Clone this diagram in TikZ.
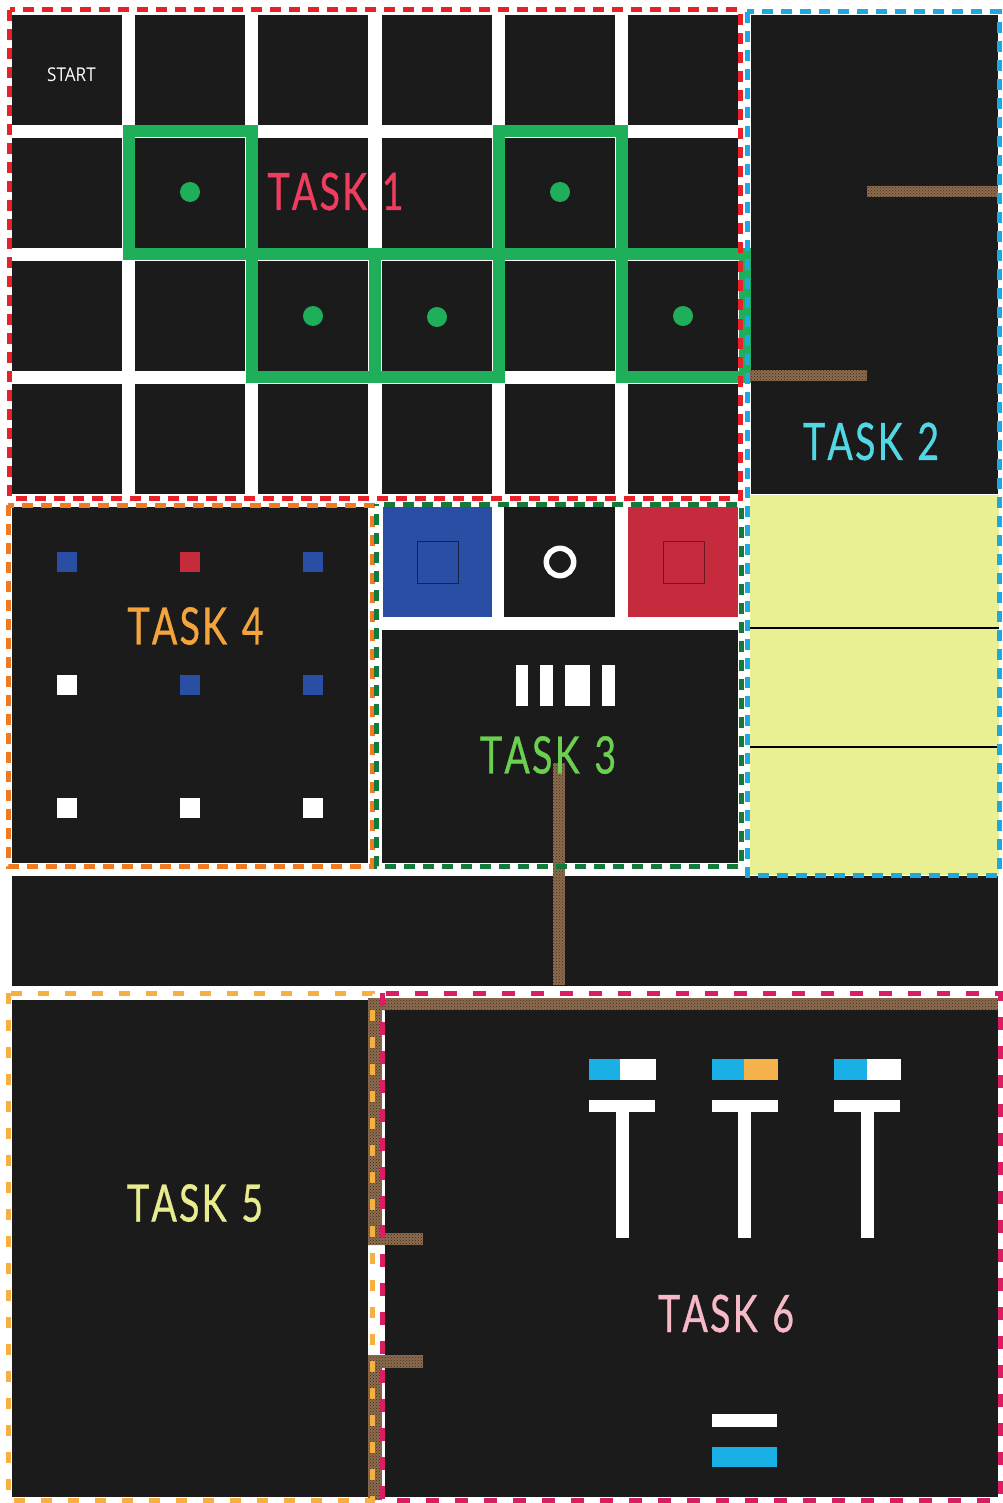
\documentclass[tikz,border=0pt]{standalone}
\usepackage{fontspec}
\setmainfont{Open Sans}
\newfontfamily\taskfont[FakeBold=0.8]{Lato}
\usetikzlibrary{patterns}
\definecolor{cellblack}{HTML}{1C1B1C}
\definecolor{gridgreen}{HTML}{1FAE5A}
\definecolor{bred}{HTML}{E8202A}
\definecolor{bblue}{HTML}{1FA8E0}
\definecolor{borange}{HTML}{F07A22}
\definecolor{bgreen}{HTML}{147A3C}
\definecolor{blorange}{HTML}{F6B040}
\definecolor{bmagenta}{HTML}{D91E64}
\definecolor{tone}{HTML}{EF3D5E}
\definecolor{ttwo}{HTML}{52D8E4}
\definecolor{tthree}{HTML}{6BCF4F}
\definecolor{tfour}{HTML}{F5A43C}
\definecolor{tfive}{HTML}{E8EC8E}
\definecolor{tsix}{HTML}{F8B9C6}
\definecolor{sqblue}{HTML}{2A4EA3}
\definecolor{sqred}{HTML}{C52B3D}
\definecolor{padyellow}{HTML}{E9EF93}
\definecolor{barcyan}{HTML}{1AB0E6}
\definecolor{barorange}{HTML}{F6B24A}
\definecolor{corkbase}{HTML}{8C6C4E}
\definecolor{corkdark}{HTML}{3E2C1E}
\newcommand{\tasktext}[1]{T\kern3pt A\kern3pt S\kern3pt K\hspace{20pt}#1}
\begin{document}
\begin{tikzpicture}[x=1pt,y=-1pt]
\tikzset{
  cell/.style={fill=cellblack},
  bdr/.style={line width=5pt, dash pattern=on 11pt off 8pt},
  greenline/.style={draw=gridgreen, line width=12pt, line cap=rect},
  cork/.style={fill=corkbase, postaction={pattern=crosshatch dots, pattern color=corkdark}},
  tasklabel/.style={inner sep=0pt, font=\taskfont\fontsize{51.6}{52}\selectfont, xscale=0.73},
  wbar/.style={fill=white},
}
\fill[white] (0,0) rectangle (1002,1503);
\useasboundingbox (0,0) rectangle (1002,1503);

% ---------- Task 1 grid ----------
\foreach \i in {0,...,5} \foreach \j in {0,...,3} {
  \fill[cell] ({12+123.2*\i},{15+123*\j}) rectangle ++(110,110);
}
\draw[greenline] (128.5,131) -- (252,131);
\draw[greenline] (498.5,131) -- (621.5,131);
\draw[greenline] (128.5,254.5) -- (745,254.5);
\draw[greenline] (252,377) -- (498.5,377);
\draw[greenline] (621.5,377) -- (745,377);
\draw[greenline] (128.5,131) -- (128.5,254.5);
\draw[greenline] (252,131) -- (252,377);
\draw[greenline] (375,254.5) -- (375,377);
\draw[greenline] (498.5,131) -- (498.5,377);
\draw[greenline] (621.5,131) -- (621.5,377);
\draw[greenline] (745,254.5) -- (745,377);
\foreach \p in {(190,192),(560,192),(313,316),(437,317),(683,316)}
  \fill[gridgreen] \p circle (10);
\node[text=white, inner sep=0pt, font=\fontsize{19}{20}\selectfont, xscale=0.9] (start) at (71.5,75) {START};
\node[tasklabel, text=tone] (task1) at (335.5,191.5) {\tasktext{1}};

% ---------- Task 2 ----------
\fill[cell] (751,15) rectangle (998,494);
\fill[padyellow] (750,495) rectangle (999,875);
\draw[line width=1.5pt] (750,628) -- (999,628);
\draw[line width=1.5pt] (750,747) -- (999,747);
\fill[cork] (867,186) rectangle (998,197);
\fill[cork] (750,370) rectangle (867,381);
\node[tasklabel, text=ttwo] (task2) at (871,441.5) {\tasktext{2}};

% ---------- Task 4 ----------
\fill[cell] (12,507) rectangle (368,863);
\foreach \x/\y/\c in {67/562/sqblue,190/562/sqred,313/562/sqblue,
                      67/685/white,190/685/sqblue,313/685/sqblue,
                      67/808/white,190/808/white,313/808/white}
  \fill[\c] (\x-10,\y-10) rectangle (\x+10,\y+10);
\node[tasklabel, text=tfour] (task4) at (195.5,626) {\tasktext{4}};

% ---------- Task 3 ----------
\fill[sqblue] (382.5,507) rectangle (491.5,617);
\fill[cell] (504,507) rectangle (615,617);
\fill[sqred] (628,507) rectangle (738,617);
\draw[draw=black!55!sqblue, line width=0.8pt] (417,541) rectangle (458,583);
\draw[draw=black!45!sqred, line width=0.8pt] (663,541) rectangle (704,583);
\draw[white, line width=5.5pt] (560,562) circle (13.7);
\fill[cell] (382,630) rectangle (738,863);
\fill[wbar] (515.5,665) rectangle (527.5,706);
\fill[wbar] (540,665) rectangle (552.5,706);
\fill[wbar] (565,665) rectangle (589.5,706);
\fill[wbar] (601.5,665) rectangle (614.5,706);

% ---------- middle band ----------
\fill[cell] (12,876) rectangle (998,986);
\fill[cork] (553,763) rectangle (565,985);
\node[tasklabel, text=tthree] (task3) at (548,755) {\tasktext{3}};

% ---------- Task 5 / Task 6 ----------
\fill[cell] (12,1000) rectangle (368,1497);
\fill[cell] (385,1000) rectangle (998,1497);
\fill[cork] (374,998) rectangle (998,1010);
\fill[cork] (368,998) rectangle (382,1243);
\fill[cork] (368,1355) rectangle (382,1500);
\fill[cork] (368,1233) rectangle (423,1245);
\fill[cork] (368,1355) rectangle (423,1368);
\node[tasklabel, text=tfive] (task5) at (195,1203) {\tasktext{5}};

% Task 6 markers
\fill[barcyan] (589,1059) rectangle (620,1080);
\fill[white] (620,1059) rectangle (656,1080);
\fill[barcyan] (712,1059) rectangle (744,1080);
\fill[barorange] (744,1059) rectangle (778,1080);
\fill[barcyan] (834,1059) rectangle (867,1080);
\fill[white] (867,1059) rectangle (901,1080);
\foreach \l/\s in {589/616,712/738,834/861} {
  \fill[white] (\l,1100) rectangle (\l+66,1112);
  \fill[white] (\s,1100) rectangle (\s+12.5,1238);
}
\fill[white] (712,1414) rectangle (777,1427);
\fill[barcyan] (712,1447) rectangle (777,1467);
\node[tasklabel, text=tsix] (task6) at (726,1313.5) {\tasktext{6}};

% ---------- dashed borders ----------
\draw[bdr, bred] (9.5,10) rectangle (740,498);
\draw[bdr, bblue] (747,12) rectangle (999,875);
\draw[bdr, borange] (8,505) rectangle (372,866);
\draw[bdr, bgreen, dash phase=9pt] (376,504) rectangle (741,866);
\draw[bdr, blorange, dash pattern=on 11pt off 16pt] (8,993) rectangle (372,1500);
\draw[bdr, bmagenta, dash pattern=on 13pt off 16pt] (382,993) rectangle (1000,1500);
\end{tikzpicture}
\end{document}
